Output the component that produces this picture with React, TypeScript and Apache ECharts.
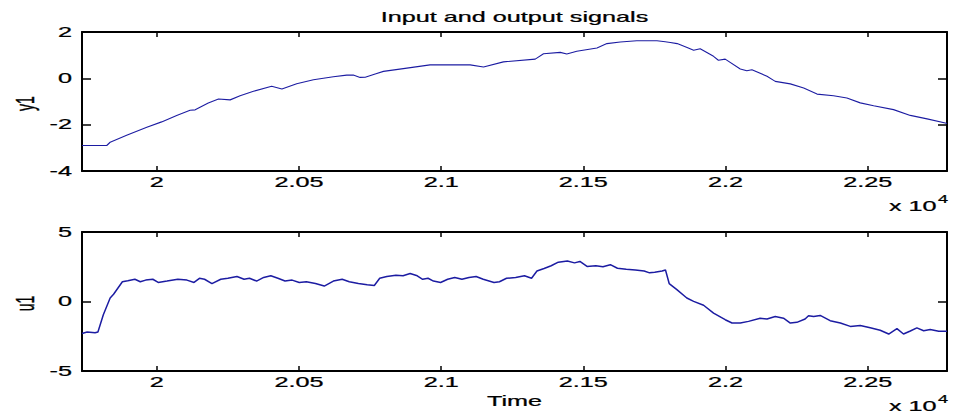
import React, { useEffect, useRef } from "react";
import * as echarts from "echarts";

const X_MIN = 19737;
const X_MAX = 22779;
const xTicks = [20000, 20500, 21000, 21500, 22000, 22500];
const xTickLabels = ["2", "2.05", "2.1", "2.15", "2.2", "2.25"];
const y1Ticks = [-4, -2, 0, 2];
const u1Ticks = [-5, 0, 5];

const y1Time = [19737, 19824, 19836, 19894, 19965, 20017, 20070, 20117, 20135, 20181, 20217, 20258, 20293, 20340, 20404, 20440, 20492, 20551, 20621, 20668, 20691, 20715, 20733, 20768, 20797, 20867, 20961, 21102, 21149, 21219, 21331, 21360, 21419, 21442, 21477, 21548, 21583, 21630, 21688, 21759, 21788, 21806, 21830, 21865, 21888, 21911, 21958, 21975, 21999, 22052, 22075, 22093, 22146, 22175, 22228, 22275, 22322, 22380, 22427, 22474, 22521, 22591, 22650, 22709, 22773, 22779];
const y1Values = [-2.9, -2.9, -2.76, -2.46, -2.11, -1.88, -1.6, -1.38, -1.36, -1.06, -0.89, -0.93, -0.75, -0.56, -0.34, -0.46, -0.23, -0.06, 0.07, 0.14, 0.14, 0.04, 0.05, 0.19, 0.3, 0.42, 0.58, 0.58, 0.49, 0.71, 0.83, 1.06, 1.12, 1.05, 1.17, 1.31, 1.5, 1.57, 1.62, 1.62, 1.58, 1.55, 1.5, 1.33, 1.21, 1.28, 0.95, 0.78, 0.83, 0.4, 0.33, 0.37, 0.09, -0.13, -0.24, -0.42, -0.68, -0.75, -0.85, -1.06, -1.18, -1.35, -1.6, -1.75, -1.93, -1.95];

const u1Time = [
  19737, 19755, 19783, 19793, 19812, 19836, 19848, 19879, 19898, 19923, 19942, 19961, 19986, 20005, 20036,
  20074, 20106, 20131, 20150, 20168, 20194, 20225, 20250, 20282, 20307, 20326, 20351, 20376, 20401, 20426,
  20451, 20476, 20501, 20526, 20558, 20589, 20621, 20652, 20677, 20709, 20740, 20765, 20784, 20809, 20841,
  20866, 20891, 20916, 20935, 20954, 20973, 20998, 21023, 21048, 21073, 21098, 21123, 21148, 21186, 21205,
  21230, 21262, 21293, 21318, 21337, 21362, 21387, 21412, 21444, 21469, 21488, 21513, 21544, 21569, 21595,
  21620, 21651, 21683, 21714, 21733, 21751, 21777, 21789, 21802, 21829, 21864, 21888, 21923, 21958, 21999,
  22023, 22052, 22081, 22122, 22146, 22175, 22204, 22228, 22251, 22280, 22292, 22310, 22333, 22368, 22404,
  22439, 22474, 22509, 22544, 22574, 22603, 22626, 22650, 22673, 22697, 22720, 22750, 22779,
];
const u1Values = [
  -2.3, -2.2, -2.25, -2.2, -0.95, 0.25, 0.52, 1.42, 1.49, 1.6, 1.42, 1.54, 1.6, 1.37, 1.47,
  1.6, 1.54, 1.37, 1.67, 1.6, 1.29, 1.6, 1.67, 1.8, 1.6, 1.67, 1.47, 1.73, 1.85, 1.67,
  1.47, 1.54, 1.37, 1.42, 1.29, 1.11, 1.47, 1.6, 1.42, 1.29, 1.21, 1.15, 1.67, 1.8, 1.88,
  1.85, 2.01, 1.85, 1.6, 1.67, 1.47, 1.37, 1.6, 1.73, 1.6, 1.73, 1.8, 1.6, 1.37, 1.42,
  1.67, 1.73, 1.85, 1.67, 2.19, 2.37, 2.57, 2.83, 2.91, 2.78, 2.88, 2.52, 2.57, 2.5, 2.65,
  2.39, 2.32, 2.27, 2.19, 2.06, 2.11, 2.19, 2.27, 1.29, 0.85, 0.25, 0.01, -0.27, -0.83, -1.31,
  -1.55, -1.55, -1.43, -1.21, -1.26, -1.08, -1.2, -1.55, -1.5, -1.26, -1.02, -1.08, -1.0, -1.38, -1.55,
  -1.79, -1.72, -1.89, -2.07, -2.34, -1.95, -2.34, -2.12, -1.9, -2.1, -2.02, -2.14, -2.14,
];

const FONT = "'Liberation Sans', Arial, Helvetica, sans-serif";
const STRETCH = 1.8;
const LINE_COLOR = "#1c1ca2";

export default function App() {
  const ref = useRef<HTMLDivElement>(null);

  useEffect(() => {
    if (!ref.current) return;
    const chart = echarts.init(ref.current, null, { renderer: "svg" });

    const axisLine = { show: true, onZero: false, lineStyle: { color: "#000", width: 2 } };
    const tickStyle = { color: "#000", width: 1.5 };

    const mkX = (gridIndex: number, position: string) => ({
      type: "value",
      gridIndex,
      position,
      min: X_MIN,
      max: X_MAX,
      axisLine,
      axisTick: { show: true, inside: true, length: 5, customValues: xTicks, lineStyle: tickStyle },
      axisLabel: { show: false, customValues: xTicks },
      splitLine: { show: false },
    });
    const mkY = (gridIndex: number, position: string, min: number, max: number, interval: number) => ({
      type: "value",
      gridIndex,
      position,
      min,
      max,
      interval,
      axisLine,
      axisTick: { show: true, inside: true, length: 9, lineStyle: tickStyle },
      axisLabel: { show: false },
      splitLine: { show: false },
    });

    chart.setOption({
      animation: false,
      backgroundColor: "#fff",
      grid: [
        { left: 82, top: 32, width: 865, height: 139 },
        { left: 82, top: 232, width: 865, height: 139 },
      ],
      xAxis: [mkX(0, "bottom"), mkX(0, "top"), mkX(1, "bottom"), mkX(1, "top")],
      yAxis: [
        mkY(0, "left", -4, 2, 2),
        mkY(0, "right", -4, 2, 2),
        mkY(1, "left", -5, 5, 5),
        mkY(1, "right", -5, 5, 5),
      ],
      series: [
        {
          type: "line",
          xAxisIndex: 0,
          yAxisIndex: 0,
          showSymbol: false,
          lineStyle: { color: LINE_COLOR, width: 1.1 },
          data: y1Time.map((t, i) => [t, y1Values[i]]),
        },
        {
          type: "line",
          xAxisIndex: 2,
          yAxisIndex: 2,
          showSymbol: false,
          lineStyle: { color: LINE_COLOR, width: 1.5 },
          data: u1Time.map((t, i) => [t, u1Values[i]]),
        },
      ],
    });

    const txt = (text: string, x: number, y: number, align: string, vAlign: string, extra: any = {}, fontSize = 14) => ({
      type: "text",
      x,
      y,
      scaleX: STRETCH,
      silent: true,
      ...extra,
      style: {
        text,
        fontFamily: FONT,
        fontSize,
        fill: "#000",
        stroke: "#000",
        lineWidth: 0.25,
        align,
        verticalAlign: vAlign,
        textAlign: align,
        textVerticalAlign: vAlign,
      },
    });

    const graphics: any[] = [];
    const plots = [
      { xIdx: 0, yIdx: 0, min: -4 },
      { xIdx: 2, yIdx: 2, min: -5 },
    ];
    plots.forEach((p) => {
      const yb = chart.convertToPixel({ yAxisIndex: p.yIdx }, p.min) as number;
      xTicks.forEach((v, i) => {
        const px = chart.convertToPixel({ xAxisIndex: p.xIdx }, v) as number;
        graphics.push(txt(xTickLabels[i], px, yb + 11.5, "center", "middle"));
      });
      graphics.push(txt("x 10", 889, yb + 35.5, "left", "middle"));
      graphics.push(txt("4", 938, yb + 28.5, "left", "middle", {}, 10));
    });
    y1Ticks.forEach((v) => {
      const py = chart.convertToPixel({ yAxisIndex: 0 }, v) as number;
      graphics.push(txt(String(v), 72, py, "right", "middle"));
    });
    u1Ticks.forEach((v) => {
      const py = chart.convertToPixel({ yAxisIndex: 2 }, v) as number;
      graphics.push(txt(String(v), 72, py, "right", "middle"));
    });
    const cx = ((chart.convertToPixel({ xAxisIndex: 0 }, X_MIN) as number) + (chart.convertToPixel({ xAxisIndex: 0 }, X_MAX) as number)) / 2;
    const y1c = ((chart.convertToPixel({ yAxisIndex: 0 }, -4) as number) + (chart.convertToPixel({ yAxisIndex: 0 }, 2) as number)) / 2;
    const u1c = ((chart.convertToPixel({ yAxisIndex: 2 }, -5) as number) + (chart.convertToPixel({ yAxisIndex: 2 }, 5) as number)) / 2;
    graphics.push(txt("Input and output signals", cx, 17.5, "center", "middle"));
    graphics.push(txt("Time", cx, 401, "center", "middle"));
    graphics.push({
      ...txt("y1", 25, y1c + 2, "center", "middle", { rotation: Math.PI / 2 }),
      scaleX: 1,
      scaleY: STRETCH,
    });
    graphics.push({
      ...txt("u1", 25, u1c + 2, "center", "middle", { rotation: Math.PI / 2 }),
      scaleX: 1,
      scaleY: STRETCH,
    });

    chart.setOption({ graphic: graphics });

    return () => chart.dispose();
  }, []);

  return (
    <div
      ref={ref}
      style={{ position: "fixed", left: 0, top: 0, width: 955, height: 419, background: "#fff" }}
    />
  );
}
